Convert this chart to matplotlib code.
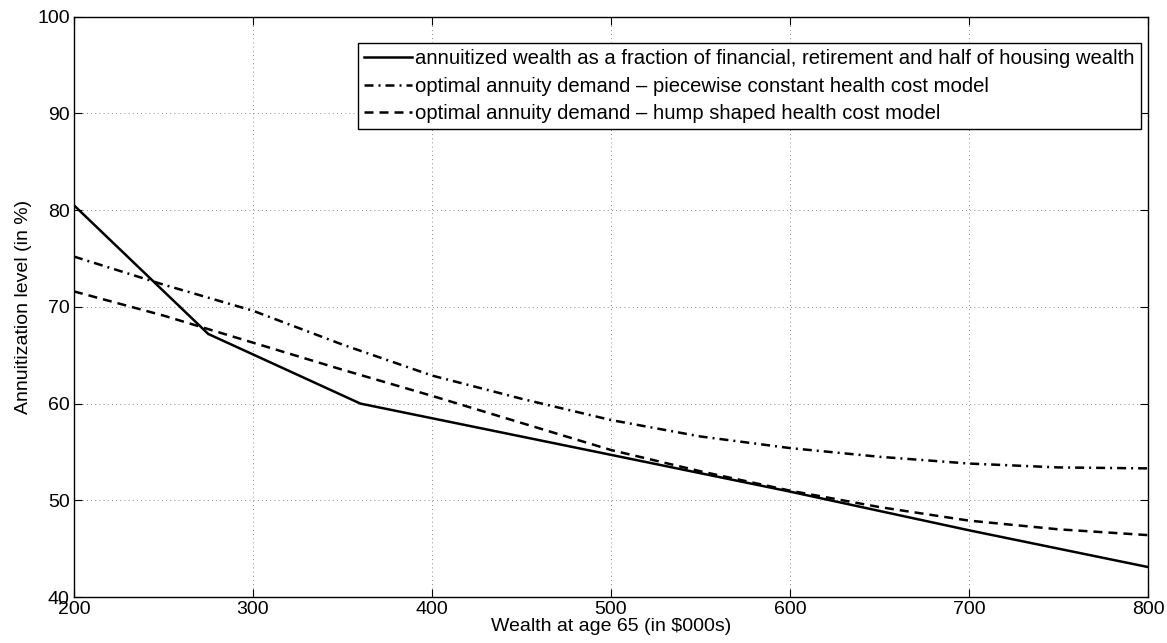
import matplotlib
matplotlib.use("Agg")
import matplotlib.pyplot as plt

plt.rcParams['font.family'] = ['Liberation Sans', 'DejaVu Sans']

# annuitized wealth (solid)
wealth_obs = [200, 275, 360, 500, 600, 700, 800]
annuitized = [80.5, 67.2, 60.0, 54.7, 50.9, 46.9, 43.1]

# optimal demand, piecewise constant health cost (dash-dot)
wealth_model = [200, 250, 300, 350, 400, 450, 500, 550, 600, 650, 700, 750, 800]
piecewise = [75.2, 72.3, 69.6, 66.1, 62.9, 60.5, 58.3, 56.6, 55.4, 54.5, 53.8, 53.4, 53.3]
# optimal demand, hump shaped health cost (dashed)
hump = [71.6, 69.1, 66.3, 63.5, 60.8, 58.0, 55.2, 53.0, 51.0, 49.3, 47.9, 47.0, 46.4]

labels = [
    "annuitized wealth as a fraction of financial, retirement and half of housing wealth",
    "optimal annuity demand \u2013 piecewise constant health cost model",
    "optimal annuity demand \u2013 hump shaped health cost model",
]

fs = 14

fig = plt.figure(figsize=(11.67, 6.43), dpi=100)
ax = fig.add_axes([0.0634, 0.0715, 0.9203, 0.9025])

ax.plot(wealth_obs, annuitized, color="black", lw=1.8, ls="-", label=labels[0])
ax.plot(wealth_model, piecewise, color="black", lw=1.8, ls=(0, (3.6, 2.0, 0.8, 2.0)), label=labels[1])
ax.plot(wealth_model, hump, color="black", lw=1.8, ls=(0, (3.6, 2.4)), label=labels[2])

ax.set_xlim(200, 800)
ax.set_ylim(40, 100)
ax.set_xticks(range(200, 801, 100))
ax.set_yticks(range(40, 101, 10))
ax.tick_params(direction="in", top=True, right=True, labelsize=fs, length=6, pad=3)
ax.grid(True, ls=(0, (1, 4)), color="black", lw=0.6, alpha=0.6)
for s in ax.spines.values():
    s.set_linewidth(1)

ax.set_xlabel("Wealth at age 65 (in $000s)", fontsize=fs, labelpad=0)
ax.set_ylabel("Annuitization level (in %)", fontsize=fs, labelpad=4)

leg = ax.legend(loc="upper right", bbox_to_anchor=(0.9935, 0.955), fontsize=14.6,
                frameon=True, fancybox=False, edgecolor="black", framealpha=1,
                handlelength=2.4, handletextpad=0.15, borderpad=0.3, labelspacing=0.43,
                borderaxespad=0)
leg.get_frame().set_linewidth(1)

fig.savefig("out.png", dpi=100)
